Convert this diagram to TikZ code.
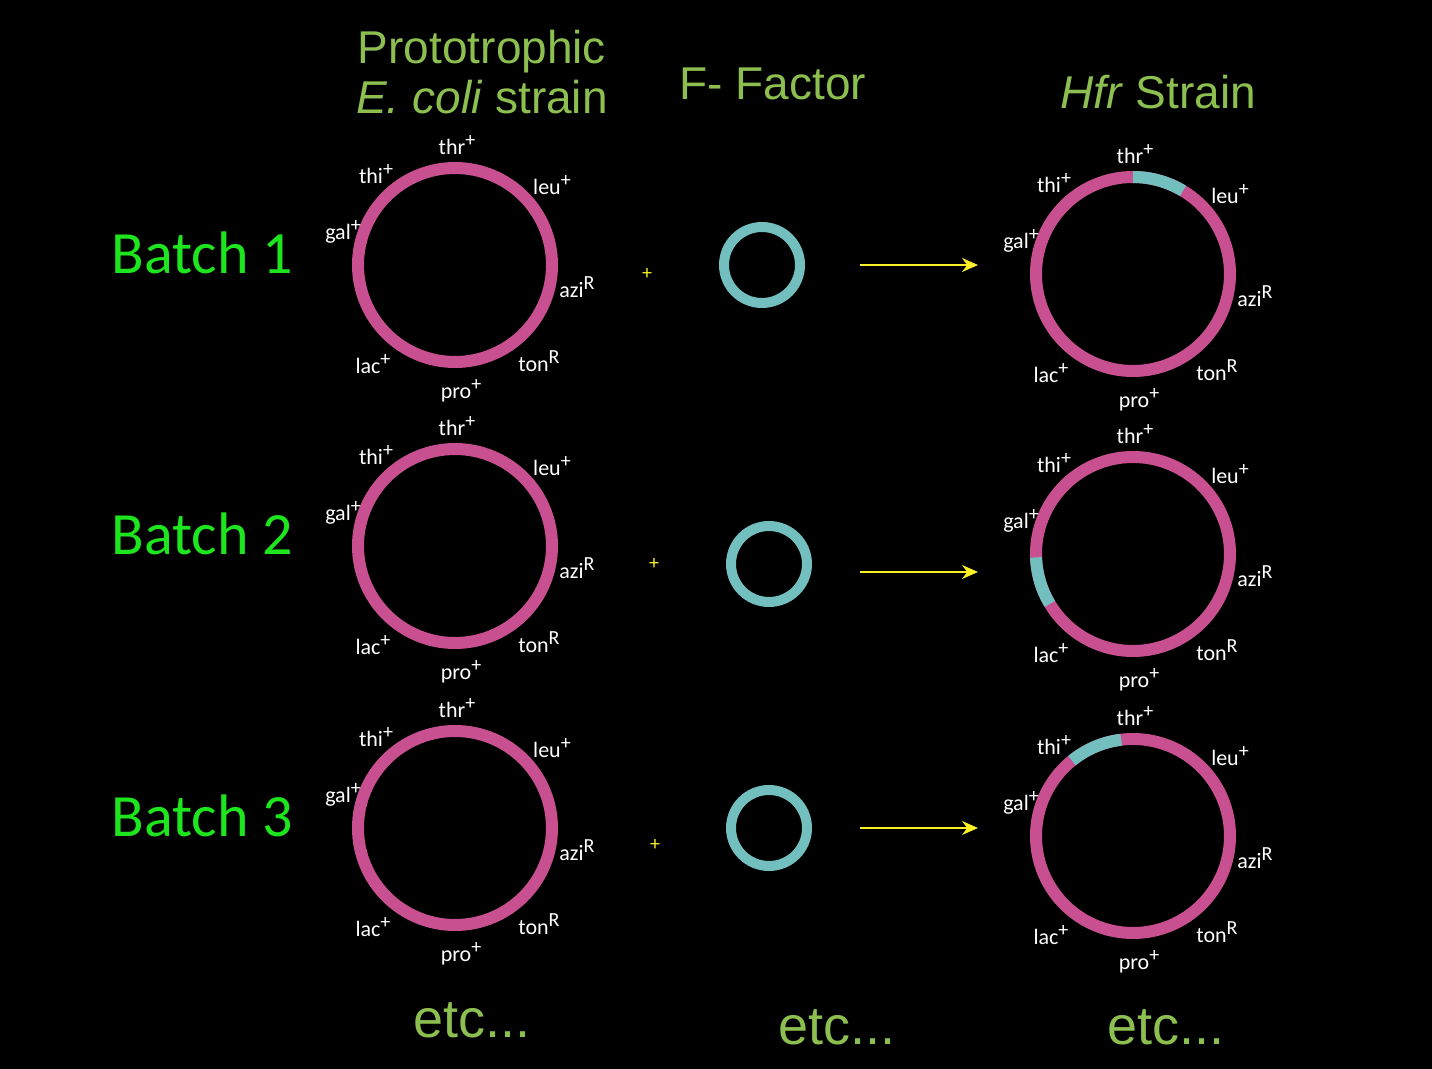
\documentclass[tikz,border=0pt]{standalone}
\usepackage{fontspec}
\setmainfont{Carlito}
\newfontfamily\arialf{Liberation Sans}
\definecolor{mag}{RGB}{200,80,145}
\definecolor{cyn}{RGB}{115,190,190}
\definecolor{olive}{RGB}{140,190,80}
\definecolor{bgreen}{RGB}{30,230,30}
\definecolor{yel}{RGB}{250,240,40}
\newcommand{\gsup}[1]{\raisebox{0.75ex}{\fontsize{10}{10}\selectfont #1}}
\tikzset{gene/.style={text=white,font=\fontsize{11}{12}\selectfont,inner sep=0pt},
 ttl/.style={text=olive,font=\arialf\fontsize{23}{24}\selectfont,inner sep=0pt},
 etcl/.style={text=olive,font=\arialf\fontsize{27}{28}\selectfont,inner sep=0pt},
 batch/.style={text=bgreen,font=\fontsize{30}{32}\selectfont,inner sep=0pt},
 chrom/.style={draw=mag,line width=6pt},
 ff/.style={draw=cyn,line width=5pt},
 arr/.style={draw=yel,line width=1pt,-{Stealth[length=8pt,width=7pt]}},
 plus/.style={text=yel,font=\fontsize{10}{10}\selectfont,inner sep=0pt}}
\newcommand{\genes}[1]{%
 \node[gene] at ($(#1)+(2,-120)$) {thr\gsup{+}};
 \node[gene] at ($(#1)+(97,-80)$) {leu\gsup{+}};
 \node[gene] at ($(#1)+(122,22)$) {azi\gsup{R}};
 \node[gene] at ($(#1)+(84,96)$) {ton\gsup{R}};
 \node[gene] at ($(#1)+(6,126)$) {pro\gsup{+}};
 \node[gene] at ($(#1)+(-82,99)$) {lac\gsup{+}};
 \node[gene] at ($(#1)+(-112,-33)$) {gal\gsup{+}};
 \node[gene] at ($(#1)+(-79,-91)$) {thi\gsup{+}};}
\usetikzlibrary{calc,arrows.meta}
\begin{document}
\begin{tikzpicture}[x=0.5pt,y=-0.5pt]
\fill[black] (0,0) rectangle (1432,1069);
\useasboundingbox (0,0) rectangle (1432,1069);
\node[ttl] (t1) at (482,52) {Prototrophic};
\node[ttl] (t2) at (482,97) {\textit{E. coli} strain};
\node[ttl] (t3) at (773,84) {F- Factor};
\node[ttl] (t4) at (1158,92) {\textit{Hfr} Strain};
\foreach \i/\yl/\yf/\yr/\ya/\yp/\xf/\xp in {1/265/265/274/265/274/762/647, 2/546/564/554/572/564/769/654, 3/828/828/836/828/845/769/655}{
 \node[batch] (b\i) at (202,\yl-12) {Batch \i};
 \coordinate (L\i) at (455,\yl);
 \coordinate (F\i) at (\xf,\yf);
 \coordinate (R\i) at (1133,\yr);
 \draw[chrom] (L\i) circle[radius=97];
 \draw[ff] (F\i) circle[radius=38];
 \draw[chrom] (R\i) circle[radius=97];
 \node[plus] (p\i) at (\xp,\yp) {+};
 \coordinate (a\i) at (860,\ya);
 \coordinate (e\i) at (978,\ya);
 \draw[arr] (a\i) -- (e\i);
 \genes{L\i}
 \genes{R\i}
}
\draw[draw=cyn,line width=6pt] ($(R1)+(-90:97)$) arc[start angle=-90,end angle=-59,radius=97];
\draw[draw=cyn,line width=6pt] ($(R2)+(-182:97)$) arc[start angle=-182,end angle=-211,radius=97];
\draw[draw=cyn,line width=6pt] ($(R3)+(-97:97)$) arc[start angle=-97,end angle=-129,radius=97];
\node[etcl] (c1) at (472,1020) {etc...};
\node[etcl] (c2) at (837,1027) {etc...};
\node[etcl] (c3) at (1166,1027) {etc...};
\end{tikzpicture}
\end{document}
